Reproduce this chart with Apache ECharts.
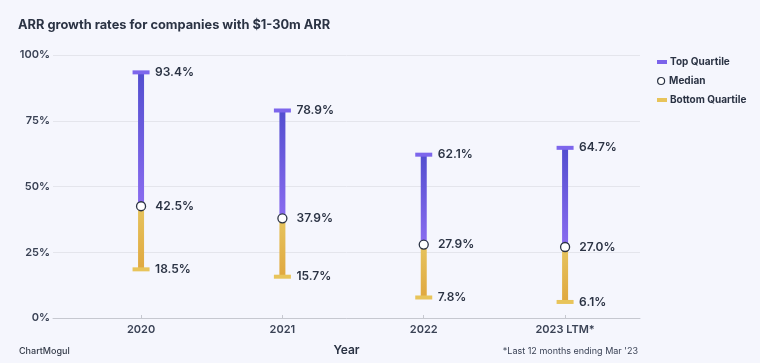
<!DOCTYPE html>
<html><head><meta charset="utf-8">
<script src="https://cdn.jsdelivr.net/npm/echarts@6/dist/echarts.min.js"></script>
<style>html,body{margin:0;padding:0;background:#f5f6fd;}#c{width:760px;height:363px;}</style>
</head><body><div id="c"></div>
<script>
const categories = ['2020', '2021', '2022', '2023 LTM*'];
const topQuartile = [93.4, 78.9, 62.1, 64.7];
const median = [42.5, 37.9, 27.9, 27.0];
const bottomQuartile = [18.5, 15.7, 7.8, 6.1];
const yTicks = [0, 25, 50, 75, 100];

const idx = categories.map((c, i) => i);
const txt = '#2b3344';
const FONT = 'Inter, "Noto Sans", sans-serif';

function rangeItem(gradTop, gradBot, capColor) {
  return function (params, api) {
    const i = api.value(0);
    const end = api.coord([i, api.value(1)]);
    const start = api.coord([i, api.value(2)]);
    const bw = 6, cw = 17, ch = 4;
    return {
      type: 'group',
      children: [
        { type: 'rect', shape: { x: end[0] - bw / 2, y: Math.min(end[1], start[1]), width: bw, height: Math.abs(start[1] - end[1]) },
          style: { fill: { type: 'linear', x: 0, y: 0, x2: 0, y2: 1, colorStops: [{ offset: 0, color: gradTop }, { offset: 1, color: gradBot }] } } },
        { type: 'rect', shape: { x: end[0] - cw / 2, y: end[1] - ch / 2, width: cw, height: ch }, style: { fill: capColor } },
        { type: 'text', x: end[0] + 14, y: end[1], style: { text: api.value(1).toFixed(1) + '%', fill: txt, font: '600 12px ' + FONT, textAlign: 'left', textVerticalAlign: 'middle' } }
      ]
    };
  };
}

const legendText = { fontSize: 10, fontWeight: 700, color: txt, padding: [0, 0, 0, -2] };
const chart = echarts.init(document.getElementById('c'), null, { renderer: 'canvas' });
chart.setOption({
  backgroundColor: '#f5f6fd',
  animation: false,
  textStyle: { fontFamily: FONT },
  title: { text: 'ARR growth rates for companies with $1-30m ARR', left: 13, top: 14,
    textStyle: { fontSize: 12.8, fontWeight: 700, color: txt, fontFamily: FONT } },
  legend: [
    { data: [{ name: 'Top Quartile', icon: 'rect' }], orient: 'vertical', left: 652, top: 52, itemWidth: 10, itemHeight: 4,
      textStyle: legendText },
    { data: [{ name: 'Median', icon: 'circle' }], orient: 'vertical', left: 652, top: 71, itemWidth: 10, itemHeight: 7,
      itemStyle: { color: '#ffffff', borderColor: txt, borderWidth: 1.2 }, textStyle: legendText },
    { data: [{ name: 'Bottom Quartile', icon: 'rect' }], orient: 'vertical', left: 652, top: 90, itemWidth: 10, itemHeight: 4,
      textStyle: legendText }
  ],
  grid: { left: 53, right: 120, top: 55, bottom: 45, outerBoundsMode: 'none', containLabel: false },
  xAxis: {
    type: 'value', min: -0.623, max: 3.53,
    name: 'Year', nameLocation: 'middle', nameGap: 26,
    nameTextStyle: { fontSize: 12, fontWeight: 600, color: txt },
    axisLine: { show: true, lineStyle: { color: '#c6c8d0' } },
    axisTick: { show: true, customValues: idx, inside: true, length: 3, lineStyle: { color: '#c6c8d0' } },
    axisLabel: { customValues: idx, formatter: v => categories[Math.round(v)], fontSize: 11, fontWeight: 600, color: '#3a4255', margin: 6 },
    splitLine: { show: false }
  },
  yAxis: {
    type: 'value', min: yTicks[0], max: yTicks[yTicks.length - 1], interval: 25,
    axisLine: { show: false }, axisTick: { show: false },
    axisLabel: { formatter: '{value}%', fontSize: 11, fontWeight: 600, color: '#3a4255', margin: 3 },
    splitLine: { lineStyle: { color: '#e4e5ec' } }
  },
  series: [
    { name: 'Top Quartile', type: 'custom', itemStyle: { color: '#7b63ea' },
      renderItem: rangeItem('#524ecf', '#8a6cf0', '#7d66ec'),
      data: idx.map(i => [i, topQuartile[i], median[i]]), z: 2 },
    { name: 'Bottom Quartile', type: 'custom', itemStyle: { color: '#e8c45a' },
      renderItem: rangeItem('#e6c45e', '#e0a83f', '#e8c45a'),
      data: idx.map(i => [i, bottomQuartile[i], median[i]]), z: 2 },
    { name: 'Median', type: 'scatter', symbol: 'circle', symbolSize: 9, z: 5,
      itemStyle: { color: '#ffffff', borderColor: '#2b3344', borderWidth: 1.3, opacity: 1 },
      label: { show: true, position: 'right', distance: 9, formatter: p => p.value[1].toFixed(1) + '%', fontSize: 12, fontWeight: 600, color: txt, opacity: 1 },
      data: idx.map(i => [i, median[i]]) }
  ],
  graphic: [
    { type: 'text', left: 19, top: 347, style: { text: 'ChartMogul', font: '500 9px ' + FONT, fill: '#333a48' } },
    { type: 'text', right: 122, top: 347, style: { text: "*Last 12 months ending Mar '23", font: '9px ' + FONT, fill: '#3a4255' } }
  ]
});
</script></body></html>
